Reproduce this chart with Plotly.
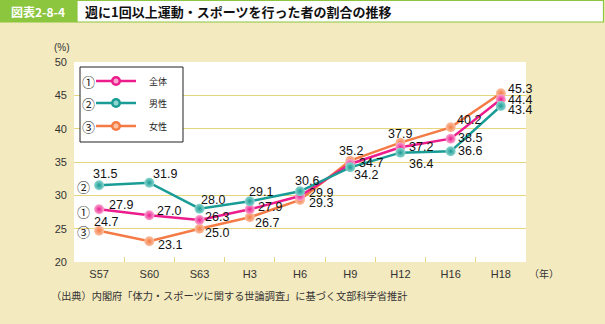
import plotly.graph_objects as go

categories = ["S57", "S60", "S63", "H3", "H6", "H9", "H12", "H16", "H18"]
total = [27.9, 27.0, 26.3, 27.9, 29.9, 34.7, 37.2, 38.5, 44.4]
male = [31.5, 31.9, 28.0, 29.1, 30.6, 34.2, 36.4, 36.6, 43.4]
female = [24.7, 23.1, 25.0, 26.7, 29.3, 35.2, 37.9, 40.2, 45.3]
series_names = ["全体", "男性", "女性"]
series_marks = ["①", "②", "③"]
y_ticks = [20, 25, 30, 35, 40, 45, 50]

BG = "#F3EABF"
GREEN = "#8CC63F"
GRID = "#E6D67E"
colors = ["#EC1C8C", "#1A9C96", "#F47B45"]
light = ["#F9A8D2", "#8FD6CF", "#FBC2A4"]

# label offsets in pixels (left edge dx, centre dy downwards) - styling only
off_total = [(8, -4), (6, -4), (3, -3), (6, -2), (7, -3), (7, -1), (7, 0), (5, -1), (5, 1)]
off_male = [(-8, -11), (2, -9), (-1, -9), (-3, -9), (-7, -10), (2, 8), (7, 11), (5, 0), (5, 4)]
off_female = [(-7, -9), (7, 4), (3, 4), (3, 6), (7, 3), (-13, -10), (-14, -9), (4, -7), (5, -4)]

fig = go.Figure()
data = [total, male, female]
offsets = [off_total, off_male, off_female]
order = [2, 0, 1]
for i in order:
    vals = data[i]
    fig.add_trace(go.Scatter(
        x=categories, y=vals, mode="lines+markers",
        line=dict(color=colors[i], width=2.5),
        marker=dict(size=10, color=light[i], line=dict(width=0),
                    gradient=dict(type="radial", color=colors[i])),
        name=series_names[i], showlegend=False, cliponaxis=False,
    ))

W, H = 605, 324
L, R, T, B = 74, 526, 62, 262
def px(x):
    return (x - L) / (R - L)
def py(y):
    return (B - y) / (B - T)

shapes = []
annotations = []

# value labels
for i in range(3):
    for c, v, (dx, dy) in zip(categories, data[i], offsets[i]):
        annotations.append(dict(x=c, y=v, xref="x", yref="y", text=f"{v:.1f}",
                                xanchor="left", yanchor="middle", xshift=dx, yshift=-dy,
                                showarrow=False,
                                font=dict(family="Liberation Sans, Arial", size=12.5, color="#111")))

# header
shapes.append(dict(type="rect", xref="paper", yref="paper", x0=px(0), x1=px(77), y0=py(22.5), y1=py(0),
                   fillcolor=GREEN, line=dict(width=0), layer="above"))
shapes.append(dict(type="rect", xref="paper", yref="paper", x0=px(77), x1=px(603.5), y0=py(22), y1=py(0.5),
                   fillcolor="white", line=dict(width=1.2, color=GREEN), layer="above"))
annotations.append(dict(xref="paper", yref="paper", x=px(38), y=py(11), text="<b>図表2-8-4</b>",
                        showarrow=False, font=dict(family="Noto Sans CJK JP", size=12, color="white"),
                        xanchor="center", yanchor="middle"))
annotations.append(dict(xref="paper", yref="paper", x=px(83), y=py(11),
                        text="<b>週に1回以上運動・スポーツを行った者の割合の推移</b>",
                        showarrow=False, font=dict(family="Noto Sans CJK JP", size=13, color="#111"),
                        xanchor="left", yanchor="middle"))

# legend box
shapes.append(dict(type="rect", xref="paper", yref="paper", x0=px(80), x1=px(183), y0=py(142), y1=py(67),
                   fillcolor="white", line=dict(width=1, color="#222"), layer="above"))
rows = [81, 103, 126]
for i in range(3):
    yy = rows[i]
    shapes.append(dict(type="line", xref="paper", yref="paper", x0=px(96), x1=px(136), y0=py(yy), y1=py(yy),
                       line=dict(color=colors[i], width=2.5), layer="above"))
    shapes.append(dict(type="circle", xref="paper", yref="paper", x0=px(111), x1=px(121), y0=py(yy + 5), y1=py(yy - 5),
                       fillcolor=colors[i], line=dict(width=0), layer="above"))
    shapes.append(dict(type="circle", xref="paper", yref="paper", x0=px(113.5), x1=px(118.5), y0=py(yy + 2.5), y1=py(yy - 2.5),
                       fillcolor=light[i], line=dict(width=0), layer="above"))
    annotations.append(dict(xref="paper", yref="paper", x=px(88), y=py(yy), text=series_marks[i],
                            showarrow=False, font=dict(family="Noto Sans CJK JP", size=13, color="#222"),
                            xanchor="center", yanchor="middle"))
    annotations.append(dict(xref="paper", yref="paper", x=px(158), y=py(yy), text=series_names[i],
                            showarrow=False, font=dict(family="Noto Sans CJK JP", size=9, color="#222"),
                            xanchor="center", yanchor="middle"))

# circled numbers beside first points
mark_dy = [2, 1, 1]
for i in range(3):
    annotations.append(dict(x=categories[0], y=data[i][0], xref="x", yref="y", text=series_marks[i],
                            xshift=-16, yshift=-mark_dy[i],
                            showarrow=False, font=dict(family="Noto Sans CJK JP", size=13, color="#222"),
                            xanchor="center", yanchor="middle"))

# axis extras
annotations.append(dict(xref="paper", yref="paper", x=px(62), y=py(48), text="(%)", showarrow=False,
                        font=dict(family="Liberation Sans, Arial", size=10, color="#333"),
                        xanchor="center", yanchor="middle"))
annotations.append(dict(xref="paper", yref="paper", x=px(527), y=py(273), text="（年）", showarrow=False,
                        font=dict(family="Noto Sans CJK JP", size=10, color="#333"),
                        xanchor="left", yanchor="middle"))
annotations.append(dict(xref="paper", yref="paper", x=px(49), y=py(295),
                        text="（出典）内閣府「体力・スポーツに関する世論調査」に基づく文部科学省推計",
                        showarrow=False, font=dict(family="Noto Sans CJK JP", size=10.2, color="#333"),
                        xanchor="left", yanchor="middle"))

fig.update_layout(
    width=W, height=H,
    margin=dict(l=L, r=W - R, t=T, b=H - B, pad=0),
    paper_bgcolor=BG, plot_bgcolor="white",
    shapes=shapes, annotations=annotations,
    showlegend=False,
)
fig.update_xaxes(
    type="category", range=[-0.5, 8.5], showgrid=False, zeroline=False, showline=False,
    ticks="inside", tickson="boundaries", ticklen=5, tickcolor=GRID, tickwidth=1,
    ticklabelstandoff=4,
    tickfont=dict(family="Liberation Sans, Arial", size=11, color="#333"),
)
fig.update_yaxes(
    range=[20, 50], tickvals=y_ticks, showgrid=True, gridcolor=GRID, gridwidth=1,
    zeroline=False, showline=False, ticks="", ticklabelstandoff=6,
    tickfont=dict(family="Liberation Sans, Arial", size=11, color="#333"),
)
fig.write_html("out.html")
